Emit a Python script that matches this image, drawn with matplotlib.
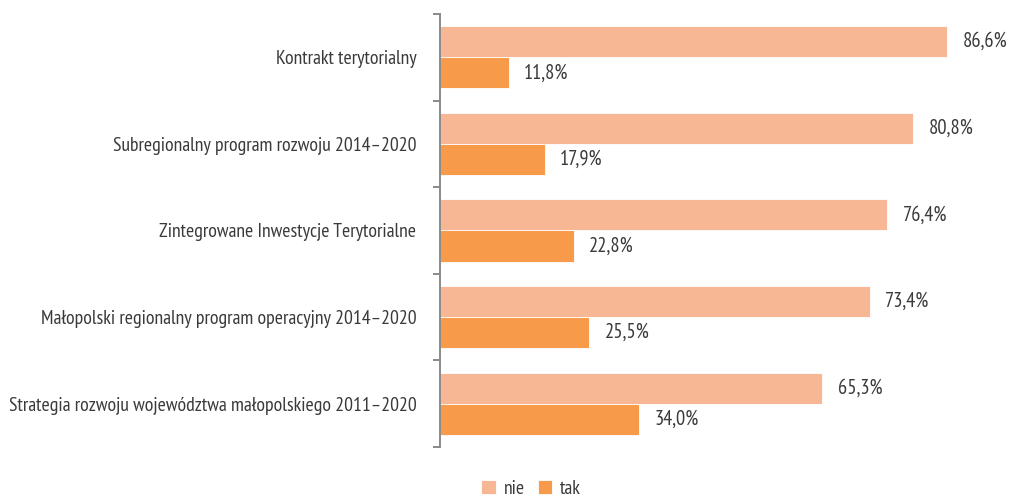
import numpy as np
import matplotlib.pyplot as plt
from matplotlib import font_manager

names = set(f.name for f in font_manager.fontManager.ttflist)
prefs = ['PT Sans Narrow', 'Roboto Condensed', 'Open Sans Condensed', 'Fira Sans Condensed',
         'Asap Condensed', 'Barlow Semi Condensed', 'Liberation Sans Narrow', 'DejaVu Sans']
fam = [p for p in prefs if p in names][0]
plt.rcParams['font.family'] = [fam, 'DejaVu Sans']

categories = ['Kontrakt terytorialny',
              'Subregionalny program rozwoju 2014\u20132020',
              'Zintegrowane Inwestycje Terytorialne',
              'Małopolski regionalny program operacyjny 2014\u20132020',
              'Strategia rozwoju województwa małopolskiego 2011\u20132020']
nie = [86.6, 80.8, 76.4, 73.4, 65.3]
tak = [11.8, 17.9, 22.8, 25.5, 34.0]

c_nie = '#F8B794'
c_tak = '#F79A4A'
txt = '#3a3a3a'
fs = 14.2

fig = plt.figure(figsize=(10.11, 4.98), dpi=100)
ax = fig.add_axes([440/1011, 1-447/498, 568/1011, 433/498])

y = np.arange(len(categories))
h = 0.36
ax.barh(y - h/2, nie, height=h, color=c_nie, edgecolor='white', linewidth=0.6, label='nie')
ax.barh(y + h/2, tak, height=h, color=c_tak, edgecolor='white', linewidth=0.6, label='tak')

for i in range(len(categories)):
    ax.text(nie[i] + 2.6, y[i] - h/2, f'{nie[i]:.1f}%'.replace('.', ','),
            va='center', ha='left', fontsize=fs + 0.6, color=txt)
    ax.text(tak[i] + 2.6, y[i] + h/2, f'{tak[i]:.1f}%'.replace('.', ','),
            va='center', ha='left', fontsize=fs + 0.6, color=txt)

ax.set_xlim(0, 97)
ax.set_ylim(len(categories) - 0.5, -0.5)
ax.set_yticks(y)
ax.set_yticklabels(categories, fontsize=fs, color=txt)
ax.set_yticks(np.arange(-0.5, len(categories)), minor=True)
ax.tick_params(axis='y', which='major', length=0, pad=17)
ax.tick_params(axis='y', which='minor', length=5, width=1.4, color='#8a8a8a')
ax.set_xticks([])
for s in ['top', 'right', 'bottom']:
    ax.spines[s].set_visible(False)
ax.spines['left'].set_color('#8a8a8a')
ax.spines['left'].set_linewidth(1.4)

fig.legend(loc='center', bbox_to_anchor=(531/1011, 1-489/498), ncol=2, frameon=False,
           handlelength=0.75, handleheight=0.75, handletextpad=0.4, columnspacing=0.65,
           fontsize=fs, labelcolor=txt)

fig.savefig('out.png', dpi=100)
